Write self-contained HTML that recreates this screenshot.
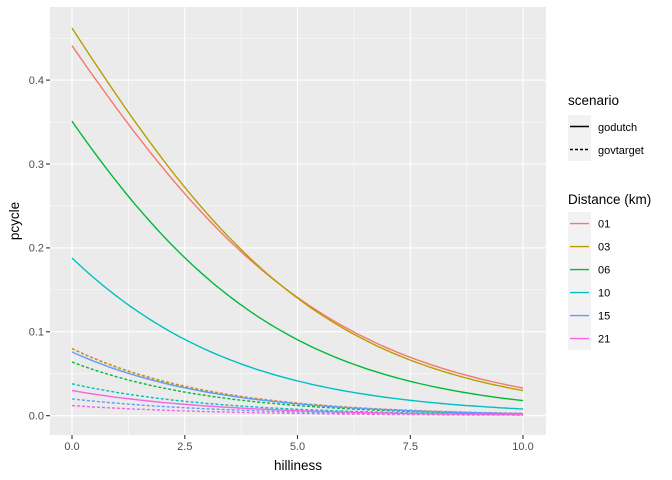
<!DOCTYPE html>
<html><head><style>body{margin:0;background:#fff}svg{display:block;font-family:"Liberation Sans",sans-serif}</style></head>
<body>
<svg id="s" width="672" height="480" xmlns="http://www.w3.org/2000/svg">
<rect width="672" height="480" fill="#fff"/>
<rect x="50" y="7" width="496" height="428" fill="#EBEBEB"/>
<g id="grid"></g>
<g id="lines"></g>
<g font-size="11" fill="#4D4D4D" text-anchor="end">
<text x="44" y="419.5">0.0</text><text x="44" y="335.5">0.1</text><text x="44" y="251.5">0.2</text><text x="44" y="168">0.3</text><text x="44" y="84">0.4</text>
</g>
<g font-size="11" fill="#4D4D4D" text-anchor="middle">
<text x="72" y="450">0.0</text><text x="184.8" y="450">2.5</text><text x="297.5" y="450">5.0</text><text x="410.3" y="450">7.5</text><text x="523" y="450">10.0</text>
</g>
<g stroke="#333" stroke-width="1.1">
<line x1="46" x2="50" y1="415.7" y2="415.7"/><line x1="46" x2="50" y1="331.8" y2="331.8"/><line x1="46" x2="50" y1="247.9" y2="247.9"/><line x1="46" x2="50" y1="164" y2="164"/><line x1="46" x2="50" y1="80.1" y2="80.1"/>
<line y1="435" y2="439" x1="72" x2="72"/><line y1="435" y2="439" x1="184.8" x2="184.8"/><line y1="435" y2="439" x1="297.5" x2="297.5"/><line y1="435" y2="439" x1="410.3" x2="410.3"/><line y1="435" y2="439" x1="523" x2="523"/>
</g>
<text x="298" y="470" font-size="13.5" text-anchor="middle">hilliness</text>
<text transform="translate(19,221) rotate(-90)" font-size="13.5" text-anchor="middle">pcycle</text>
<text x="568" y="105" font-size="13.5">scenario</text>
<rect x="568" y="115" width="23" height="46" fill="#F2F2F2"/>
<line x1="570" x2="589" y1="126.5" y2="126.5" stroke="#000" stroke-width="1.4"/>
<line x1="570" x2="589" y1="149.5" y2="149.5" stroke="#000" stroke-width="1.4" stroke-dasharray="3,2"/>
<text x="598" y="131" font-size="11">godutch</text>
<text x="598" y="154" font-size="11">govtarget</text>
<text x="568" y="204" font-size="13.5">Distance (km)</text>
<rect x="568" y="212" width="23" height="138" fill="#F2F2F2"/>
<g id="leg"></g>
</svg>
<script>
var X=function(v){return 72+v*45.1},Y=function(v){return 415.7-v*839};
var g=document.getElementById('grid'),h='';
[0.05,0.15,0.25,0.35,0.45].forEach(function(v){h+='<line x1="50" x2="546" y1="'+Y(v)+'" y2="'+Y(v)+'" stroke="#fff" stroke-width="0.5"/>'});
[1.25,3.75,6.25,8.75].forEach(function(v){h+='<line y1="7" y2="435" x1="'+X(v)+'" x2="'+X(v)+'" stroke="#fff" stroke-width="0.5"/>'});
[0,0.1,0.2,0.3,0.4].forEach(function(v){h+='<line x1="50" x2="546" y1="'+Y(v)+'" y2="'+Y(v)+'" stroke="#fff" stroke-width="1.1"/>'});
[0,2.5,5,7.5,10].forEach(function(v){h+='<line y1="7" y2="435" x1="'+X(v)+'" x2="'+X(v)+'" stroke="#fff" stroke-width="1.1"/>'});
g.innerHTML=h;
var S=[['#F8766D',0.441,0.033,0.080,0.0027],['#B79F00',0.462,0.030,0.080,0.0025],['#00BA38',0.351,0.018,0.064,0.0022],['#00BFC4',0.188,0.008,0.038,0.0015],['#619CFF',0.076,0.0025,0.020,0.001],['#F564E3',0.030,0.0012,0.012,0.0006]];
var L='',lg='',names=['01','03','06','10','15','21'];
function lg1(p){return Math.log(p/(1-p))}
function path(a,b,c,d){var A=lg1(a),B=(lg1(b)-A)/10,p='';for(var i=0;i<=100;i++){var x=i/10;var v=1/(1+Math.exp(-(A+B*x)));p+=(i?'L':'M')+X(x).toFixed(1)+','+Y(v).toFixed(1)}return '<path d="'+p+'" fill="none" stroke="'+c+'" stroke-width="1.4"'+(d?' stroke-dasharray="3,2"':'')+'/>';}
S.forEach(function(s,i){L+=path(s[3],s[4],s[0],1);});
S.forEach(function(s,i){L+=path(s[1],s[2],s[0],0);
var y=223.6+i*23;lg+='<line x1="570" x2="589" y1="'+y+'" y2="'+y+'" stroke="'+s[0]+'" stroke-width="1.4"/><text x="598" y="'+(y+4)+'" font-size="11">'+names[i]+'</text>';});
document.getElementById('lines').innerHTML=L;document.getElementById('leg').innerHTML=lg;
</script>
</body></html>
